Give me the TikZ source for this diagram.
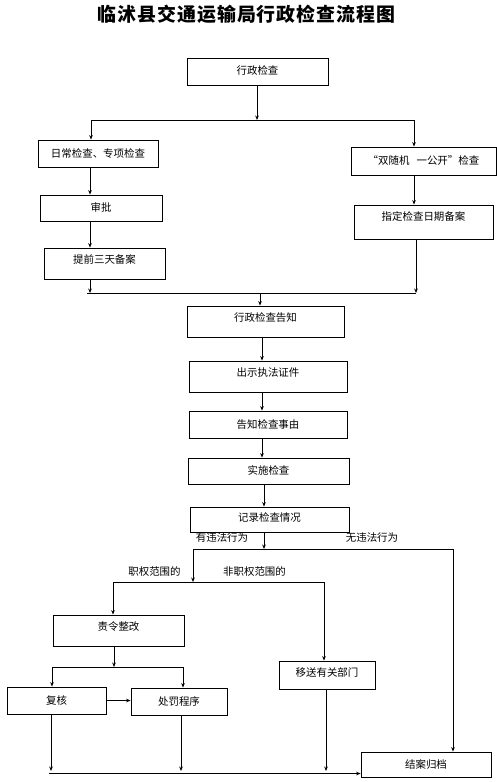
\documentclass[tikz,border=0pt]{standalone}
\usepackage{fontspec}
\setmainfont{Noto Sans CJK SC}
\newfontfamily\cjkbox{Noto Sans CJK SC}
\newfontfamily\cjktitle{Noto Sans CJK SC}[LetterSpace=5]
\usetikzlibrary{arrows.meta}
\begin{document}
\begin{tikzpicture}[x=1bp,y=-1bp,
  every node/.style={inner sep=0pt},
  box/.style={draw, line width=0.8bp, font=\cjkbox\fontsize{10.5}{12}\selectfont, text height=8.5bp, text depth=1.5bp},
  up/.style={text depth=#1},
  arr/.style={-{Stealth[length=4.5bp,width=3.6bp]}, line width=0.8bp},
  ln/.style={line width=0.8bp},
  lbl/.style={font=\cjkbox\fontsize{10.5}{12}\selectfont},
  ttl/.style={font=\cjktitle\bfseries\fontsize{19}{22}\selectfont}]
\useasboundingbox (0,0) rectangle (497,782);

\node[ttl] (title) at (246.5,14) {临沭县交通运输局行政检查流程图};

% boxes
\node[box, minimum width=141bp, minimum height=27bp] (b1) at (257.5,71.5) {行政检查};
\node[box, minimum width=120bp, minimum height=27bp] (b2) at (98,153.5) {日常检查、专项检查};
\node[box, minimum width=145bp, minimum height=28bp] (b3) at (423.5,161) {“双随机\hspace{7bp}一公开”检查};
\node[box, minimum width=122bp, minimum height=26bp] (sp) at (101,208) {审批};
\node[box, minimum width=121bp, minimum height=31bp, up=8.5bp] (tq) at (104.5,263.5) {提前三天备案};
\node[box, minimum width=139bp, minimum height=34bp, up=11.5bp] (zd) at (423.5,222) {指定检查日期备案};
\node[box, minimum width=157bp, minimum height=31bp, up=8.5bp] (gz) at (265.5,321.5) {行政检查告知};
\node[box, minimum width=158bp, minimum height=31bp, up=8.5bp] (cs) at (268,376.5) {出示执法证件};
\node[box, minimum width=158bp, minimum height=27bp] (gs) at (268,424.5) {告知检查事由};
\node[box, minimum width=161bp, minimum height=26bp] (ss) at (268.5,471) {实施检查};
\node[box, minimum width=159bp, minimum height=25bp, up=4.5bp] (jl) at (269.5,519.5) {记录检查情况};
\node[box, minimum width=131bp, minimum height=31bp, up=8.5bp] (zl) at (118.5,630.5) {责令整改};
\node[box, minimum width=99bp, minimum height=27bp] (fh) at (56.5,700.5) {复核};
\node[box, minimum width=96bp, minimum height=27bp] (cf) at (179,701.5) {处罚程序};
\node[box, minimum width=96bp, minimum height=28bp, up=5.5bp] (ys) at (327,675) {移送有关部门};
\node[box, minimum width=130bp, minimum height=25bp] (ja) at (426,764.5) {结案归档};

% labels
\node[lbl] (l1) at (222,538) {有违法行为};
\node[lbl] (l2) at (372,538) {无违法行为};
\node[lbl] (l3) at (154.5,572) {职权范围的};
\node[lbl] (l4) at (254.5,572) {非职权范围的};

% junction coordinates
\coordinate (j1) at (257,120);
\coordinate (j1l) at (91,120);
\coordinate (j1r) at (414,120);
\coordinate (j2l) at (87,293);
\coordinate (j2r) at (416,293);
\coordinate (j2) at (260,293);
\coordinate (xc) at (262,0);
\coordinate (j3) at (264,549);
\coordinate (j3l) at (193,549);
\coordinate (j3r) at (453,549);
\coordinate (j4l) at (113,582);
\coordinate (j4r) at (324,582);
\coordinate (j5) at (114,667);
\coordinate (j5l) at (52,667);
\coordinate (j5r) at (183,667);
\coordinate (jb) at (49,773.5);
\coordinate (xl) at (90,0);

% top
\draw[arr] (b1.south -| j1) -- (j1);
\draw[ln] (j1l) -- (j1r);
\draw[arr] (j1l) -- (j1l |- b2.north);
\draw[arr] (j1r) -- (j1r |- b3.north);
\draw[arr] (b2.south -| xl) -- (sp.north -| xl);
\draw[arr] (sp.south -| xl) -- (tq.north -| xl);
\draw[arr] (tq.south -| xl) -- (xl |- j2l);
\draw[arr] (b3.south -| j1r) -- (zd.north -| j1r);
\draw[arr] (zd.south -| j2r) -- (j2r);
\draw[ln] (j2l) -- (j2r);
\draw[arr] (j2) -- (j2 |- gz.north);
% middle chain
\draw[arr] (gz.south -| xc) -- (cs.north -| xc);
\draw[arr] (cs.south -| xc) -- (gs.north -| xc);
\draw[arr] (gs.south -| xc) -- (ss.north -| xc);
\draw[arr] (ss.south -| j3) -- (jl.north -| j3);
\draw[arr] (jl.south -| j3) -- (j3);
\draw[ln] (j3l) -- (j3r);
\draw[arr] (j3l) -- (j3l |- j4l);
\draw[ln] (j4l) -- (j4r);
\draw[arr] (j4l) -- (j4l |- zl.north);
\draw[arr] (j4r) -- (j4r |- ys.north);
\draw[arr] (j3r) -- (j3r |- ja.north);
% bottom left
\draw[arr] (zl.south -| j5) -- (j5);
\draw[ln] (j5l) -- (j5r);
\draw[arr] (j5l) -- (j5l |- fh.north);
\draw[arr] (j5r) -- (j5r |- cf.north);
\draw[arr] (fh.east) -- (fh.east -| cf.west);
\draw[arr] (fh.south -| 51,0) -- (51,771);
\draw[arr] (cf.south -| 181,0) -- (181,771);
\draw[arr] (ys.south -| 326,0) -- (326,771);
\draw[arr] (jb) -- (jb -| ja.west);
\end{tikzpicture}
\end{document}
